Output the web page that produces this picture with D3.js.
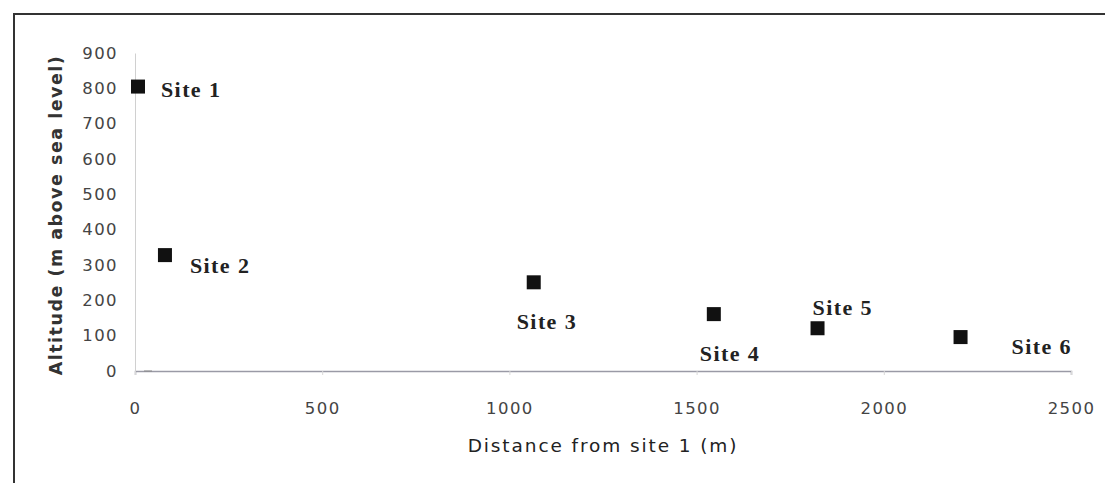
<!DOCTYPE html>
<html>
<head>
<meta charset="utf-8">
<script src="https://cdn.jsdelivr.net/npm/d3@7"></script>
<style>
  html, body { margin: 0; padding: 0; background: #fff; }
  svg { display: block; }
</style>
</head>
<body>
<svg id="chart" width="1105" height="483"></svg>
<script>
// Sampling sites: distance along the transect and altitude
const sites = ["Site 1", "Site 2", "Site 3", "Site 4", "Site 5", "Site 6"];
const distance = [8, 80, 1065, 1546, 1823, 2205];      // m from site 1
const altitude = [805, 328, 251, 161, 121, 96];        // m above sea level
const xTicks = [0, 500, 1000, 1500, 2000, 2500];
const yTicks = [0, 100, 200, 300, 400, 500, 600, 700, 800, 900];

// Label placement relative to each marker (px)
const labelOffset = [[23, 5], [25, 13], [-17, 42], [-14, 42], [-5, -18], [51, 12]];

const svg = d3.select("#chart");
const W = 1105, H = 483;
const sans = "DejaVu Sans, Verdana, sans-serif";
const serif = "Liberation Serif, Times New Roman, serif";

// Outer frame
svg.append("rect")
  .attr("x", 14).attr("y", 14)
  .attr("width", W + 10).attr("height", H)
  .attr("fill", "none").attr("stroke", "#333").attr("stroke-width", 2);

const x = d3.scaleLinear().domain([0, 2500]).range([135, 1071]);
const y = d3.scaleLinear().domain([0, 900]).range([371, 53]);

// X axis
const xAxis = svg.append("g")
  .attr("transform", `translate(0,${y(0)})`)
  .call(d3.axisBottom(x).tickValues(xTicks).tickFormat(d3.format("d")).tickSize(4).tickPadding(27));
xAxis.select(".domain").attr("stroke", "#9a9aa6").attr("stroke-width", 1.5);
xAxis.selectAll(".tick line").attr("stroke", "#d8d8d8");
xAxis.selectAll("text")
  .attr("font-family", sans).attr("letter-spacing", 1.4)
  .attr("font-size", 16.5).attr("fill", "#444");

// Y axis
const yAxis = svg.append("g")
  .attr("transform", `translate(${x(0)},0)`)
  .call(d3.axisLeft(y).tickValues(yTicks).tickFormat(d3.format("d")).tickSize(0).tickPadding(17));
yAxis.select(".domain").attr("stroke", "#d0d0d0").attr("stroke-width", 1);
yAxis.selectAll("text")
  .attr("font-family", sans).attr("letter-spacing", 1.4)
  .attr("font-size", 16.5).attr("fill", "#444");

// Short tick at the origin
svg.append("line")
  .attr("x1", x(0) + 9).attr("x2", x(0) + 17)
  .attr("y1", y(0)).attr("y2", y(0))
  .attr("stroke", "#888").attr("stroke-width", 1);

// Axis titles
svg.append("text")
  .attr("transform", `translate(62,${(y(0) + y(900)) / 2 + 3}) rotate(-90)`)
  .attr("text-anchor", "middle")
  .attr("font-family", sans).attr("letter-spacing", 1.5)
  .attr("font-size", 17.5).attr("font-weight", "bold").attr("fill", "#333")
  .text("Altitude (m above sea level)");

svg.append("text")
  .attr("x", 603).attr("y", 452)
  .attr("text-anchor", "middle")
  .attr("font-family", sans).attr("letter-spacing", 1.9)
  .attr("font-size", 18.5).attr("fill", "#222")
  .text("Distance from site 1 (m)");

// Markers
const pts = sites.map((s, i) => ({ name: s, d: distance[i], a: altitude[i], off: labelOffset[i] }));
const m = 14;
svg.append("g").selectAll("rect")
  .data(pts).join("rect")
  .attr("x", d => x(d.d) - m / 2)
  .attr("y", d => y(d.a) - m / 2)
  .attr("width", m).attr("height", m)
  .attr("fill", "#111");

// Site labels
svg.append("g").selectAll("text")
  .data(pts).join("text")
  .attr("x", d => x(d.d) + d.off[0])
  .attr("y", d => y(d.a) + d.off[1])
  .attr("dominant-baseline", "middle")
  .attr("font-family", serif).attr("letter-spacing", 1.4)
  .attr("font-weight", "bold").attr("font-size", 22).attr("fill", "#222")
  .text(d => d.name);
</script>
</body>
</html>
